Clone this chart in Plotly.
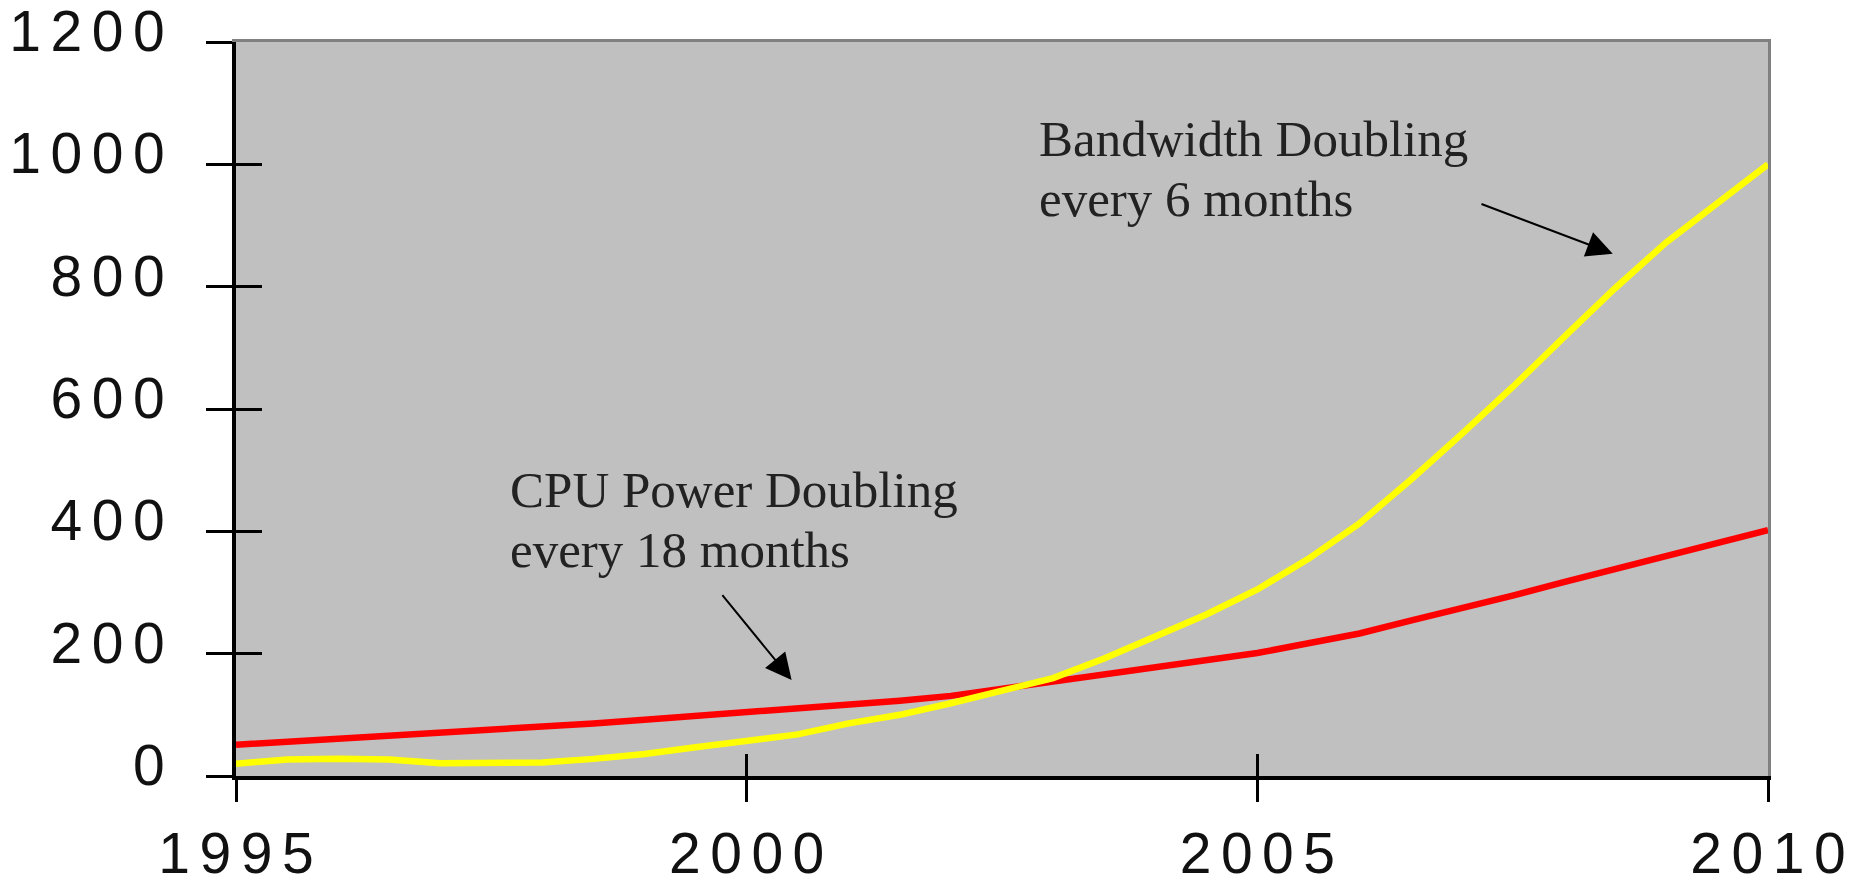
import plotly.graph_objects as go

# ---- data ----
years = [1995.0, 1995.5, 1996.0, 1996.5, 1997.0, 1997.5, 1998.0, 1998.5, 1999.0, 1999.5,
         2000.0, 2000.5, 2001.0, 2001.5, 2002.0, 2002.5, 2003.0, 2003.5, 2004.0, 2004.5,
         2005.0, 2005.5, 2006.0, 2006.5, 2007.0, 2007.5, 2008.0, 2008.5, 2009.0, 2009.5, 2010.0]
cpu_power = [51, 56, 61, 65, 69, 74, 80, 86, 92, 98,
             104, 110, 116, 123, 131, 143, 153, 165, 177, 189,
             201, 217, 233, 254, 274, 295, 317, 338, 359, 380, 402]
bandwidth = [20, 27, 28, 27, 21, 21, 22, 28, 36, 47,
             57, 68, 86, 100, 119, 139, 160, 192, 228, 264,
             305, 355, 413, 484, 559, 636, 717, 797, 872, 937, 1000]

x_ticks = [1995, 2000, 2005, 2010]
y_ticks = [0, 200, 400, 600, 800, 1000, 1200]

SP = "\u2006"  # six-per-em space for the wide digit tracking


def spaced(v):
    return SP.join(str(v))


x_ticktext = [spaced(v) for v in x_ticks]
y_ticktext = [spaced(v) for v in y_ticks]

cpu_lines = ["CPU Power Doubling", "every 18 months"]
bw_lines = ["Bandwidth Doubling", "every 6 months"]

fig = go.Figure()
fig.add_trace(go.Scatter(x=years, y=cpu_power, mode="lines",
                         line=dict(color="#ff0000", width=6.5), name="CPU", hoverinfo="skip"))
fig.add_trace(go.Scatter(x=years, y=bandwidth, mode="lines",
                         line=dict(color="#ffff00", width=6.5), name="Bandwidth", hoverinfo="skip"))
# empty helper traces so the overlay axes (inner tick halves, grey frame) are drawn
fig.add_trace(go.Scatter(x=[None], y=[None], xaxis="x2", yaxis="y2", mode="lines",
                         showlegend=False, hoverinfo="skip"))
fig.add_trace(go.Scatter(x=[None], y=[None], xaxis="x3", yaxis="y3", mode="lines",
                         showlegend=False, hoverinfo="skip"))

tick_font = dict(family="Liberation Sans, Arial, sans-serif", size=57, color="#111111")
XR = [1995, 2010]
YR = [0, 1200]

fig.update_layout(
    width=1852, height=888,
    margin=dict(l=236, r=84, t=42, b=112),
    paper_bgcolor="white",
    plot_bgcolor="#c0c0c0",
    showlegend=False,
    xaxis=dict(range=XR, tickmode="array", tickvals=x_ticks, ticktext=x_ticktext,
               ticks="outside", ticklen=22, tickwidth=3, tickcolor="black",
               showline=True, linecolor="black", linewidth=4,
               showgrid=False, zeroline=False, tickfont=tick_font, automargin=False,
               ticklabelstandoff=3, ticklabeloverflow="allow", layer="above traces"),
    xaxis2=dict(range=XR, overlaying="x", side="bottom", tickmode="array", tickvals=x_ticks,
                ticks="inside", ticklen=22, tickwidth=3, tickcolor="black", automargin=False,
                showticklabels=False, showline=False, showgrid=False, zeroline=False),
    xaxis3=dict(range=XR, overlaying="x", side="top", showticklabels=False, ticks="",
                automargin=False,
                showline=True, linecolor="#808080", linewidth=3, showgrid=False, zeroline=False),
    yaxis=dict(range=YR, tickmode="array", tickvals=y_ticks, ticktext=y_ticktext,
               ticks="outside", ticklen=26, tickwidth=3, tickcolor="black",
               showline=True, linecolor="black", linewidth=4,
               showgrid=False, zeroline=False, tickfont=tick_font, automargin=False,
               ticklabelstandoff=30, ticklabelshift=-11, ticklabeloverflow="allow",
               layer="above traces"),
    yaxis2=dict(range=YR, overlaying="y", side="left", tickmode="array", tickvals=y_ticks,
                ticks="inside", ticklen=26, tickwidth=3, tickcolor="black", automargin=False,
                showticklabels=False, showline=False, showgrid=False, zeroline=False),
    yaxis3=dict(range=YR, overlaying="y", side="right", showticklabels=False, ticks="",
                automargin=False,
                showline=True, linecolor="#808080", linewidth=3, showgrid=False, zeroline=False),
)

ann_font = dict(family="Liberation Serif, Times New Roman, serif", size=51, color="#222222")

# annotation text, one line each (tighter line spacing than Plotly's default)
for txt, ypos in zip(bw_lines, [1090, 992]):
    fig.add_annotation(x=2002.84, y=ypos, xref="x", yref="y", text=txt, showarrow=False,
                       xanchor="left", yanchor="top", align="left", font=ann_font)
for txt, ypos in zip(cpu_lines, [517, 419]):
    fig.add_annotation(x=1997.66, y=ypos, xref="x", yref="y", text=txt, showarrow=False,
                       xanchor="left", yanchor="top", align="left", font=ann_font)

# arrows (head at x,y; tail at ax,ay)
fig.add_annotation(x=2008.48, y=854, ax=2007.18, ay=936, xref="x", yref="y", axref="x", ayref="y",
                   text="", showarrow=True, arrowhead=2, arrowsize=2.6, arrowwidth=2, arrowcolor="black")
fig.add_annotation(x=2000.44, y=157, ax=1999.75, ay=298, xref="x", yref="y", axref="x", ayref="y",
                   text="", showarrow=True, arrowhead=2, arrowsize=2.6, arrowwidth=2, arrowcolor="black")

fig.write_html("out.html", config={"displayModeBar": False},
               post_script="document.body.style.margin='0';document.body.style.overflow='hidden';")
